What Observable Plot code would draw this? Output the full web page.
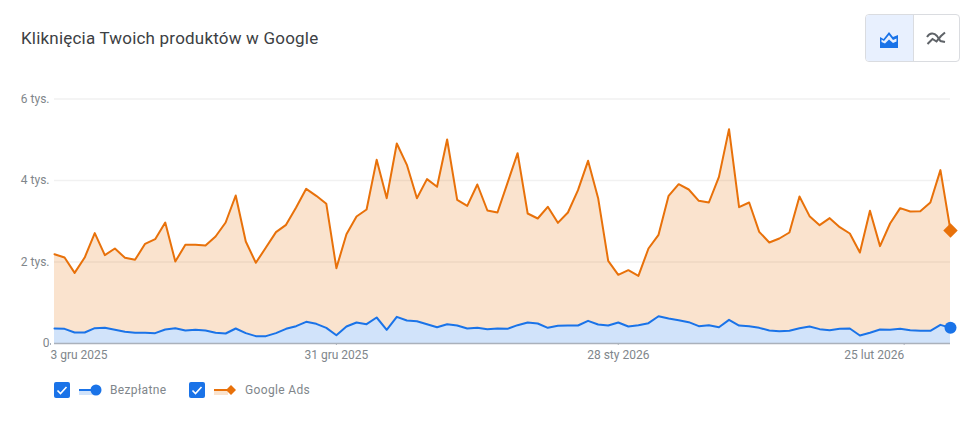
<!DOCTYPE html>
<html lang="pl">
<head>
<meta charset="utf-8">
<script src="https://cdn.jsdelivr.net/npm/d3@7"></script>
<script src="https://cdn.jsdelivr.net/npm/@observablehq/plot@0.6"></script>
<style>
html,body{margin:0;padding:0;background:#fff;width:980px;height:427px;overflow:hidden;font-family:Roboto,sans-serif}
#wrap{position:relative;width:980px;height:427px}
#chart{position:absolute;left:0;top:0}
#title{position:absolute;left:21px;top:27px;font-size:17px;line-height:22px;color:#3c4043;white-space:nowrap;letter-spacing:.2px}
#toggle{position:absolute;left:865px;top:14px;width:95px;height:48px;box-sizing:border-box;border:1px solid #dadce0;border-radius:4px;display:flex;overflow:hidden}
#toggle div{height:46px;display:flex;align-items:center;justify-content:center}
#toggle div:first-child{width:47px;background:#e8f0fe;border-right:1px solid #dadce0}
#toggle div:last-child{width:46px}
.lg{position:absolute;top:382px;height:16px;display:flex;align-items:center;font-size:12px;color:#80868b;white-space:nowrap}
.box{width:16px;height:16px;border-radius:2px;background:#1a73e8;display:block}
</style>
</head>
<body>
<div id="wrap">
  <div id="chart"></div>
  <div id="title">Kliknięcia Twoich produktów w Google</div>
  <div id="toggle">
    <div><svg width="18" height="16" viewBox="0 0 18 16" style="margin-top:3px"><path d="M0 5l3.500 2L9 0l4 5 5-2v13H0z" fill="#1a73e8"/><path d="M1.500 7.500l2.500 1.500L9 3l4 5 3.500-1.500v3L13 11 9 7.500 5 11.500 1.500 10z" fill="#e8f0fe"/></svg></div>
    <div><svg width="20" height="14" viewBox="0 0 20 14"><path d="M1 6C4 1.500 8 1.500 11 5l3.500 5 4.500 1" fill="none" stroke="#5f6368" stroke-width="2"/><path d="M1.500 13l5-5 4 2.500L15 5l4-3.500" fill="none" stroke="#5f6368" stroke-width="2"/></svg></div>
  </div>
  <div id="legend"></div>
</div>
<script>
const startDate = "2025-12-03";
const googleAds = [2192,2110,1734,2110,2708,2168,2331,2102,2053,2446,2560,2969,2012,2421,2421,2405,2626,2969,3632,2503,1980,2356,2732,2912,3337,3796,3624,3428,1849,2683,3117,3288,4507,3566,4908,4385,3566,4033,3845,5006,3526,3378,3902,3264,3215,3943,4671,3190,3068,3354,2961,3215,3763,4483,3566,2029,1685,1800,1660,2331,2667,3624,3910,3779,3501,3460,4090,5260,3346,3460,2740,2479,2577,2724,3607,3125,2904,3076,2855,2699,2233,3256,2389,2945,3321,3239,3247,3460,4254,2773];
const organic = [368,360,270,270,376,384,335,286,262,262,254,344,376,319,335,319,262,245,368,254,180,180,254,360,425,532,483,384,204,417,515,474,638,335,654,564,548,474,400,474,441,368,384,352,368,360,450,515,491,384,433,441,441,556,466,441,515,417,450,499,670,613,572,523,425,450,400,581,441,425,384,319,302,311,376,417,352,327,360,368,196,262,344,335,360,327,311,311,458,384];
const tickDates = ["2025-12-03","2025-12-31","2026-01-28","2026-02-25"];
const tickLabels = ["3 gru 2025","31 gru 2025","28 sty 2026","25 lut 2026"];
const yTicks = [0,2000,4000,6000];
const yLabels = ["0","2 tys.","4 tys.","6 tys."];
const seriesNames = ["Bezpłatne","Google Ads"];
const seriesColors = ["#1a73e8","#e8710a"];

const start = new Date(startDate + "T00:00:00Z");
const dates = googleAds.map((_, i) => d3.utcDay.offset(start, i));
const rows = dates.map((d, i) => ({date: d, ads: googleAds[i], org: organic[i]}));
const last = rows[rows.length - 1];
const T = tickDates.map(s => new Date(s + "T00:00:00Z"));
const labelOf = d => tickLabels[T.findIndex(t => +t === +d)];
const axisBase = {tickSize: 2, tickPadding: 5, stroke: "#aab1bb", color: "#80868b", fontSize: 12, label: null};

const chart = Plot.plot({
  width: 980, height: 427,
  marginTop: 98.5, marginBottom: 84, marginLeft: 54, marginRight: 30,
  style: {fontFamily: "Roboto, sans-serif", fontSize: "12px", background: "transparent", color: "#80868b"},
  x: {type: "utc", domain: [start, last.date]},
  y: {domain: [0, 6000]},
  marks: [
    Plot.ruleY(yTicks.slice(1), {stroke: "#f1f1f1", strokeWidth: 1.5}),
    Plot.areaY(rows, {x: "date", y: "ads", fill: seriesColors[1], fillOpacity: 0.2}),
    Plot.areaY(rows, {x: "date", y: "org", fill: "#d1e3fa"}),
    Plot.lineY(rows, {x: "date", y: "ads", stroke: seriesColors[1], strokeWidth: 2}),
    Plot.lineY(rows, {x: "date", y: "org", stroke: seriesColors[0], strokeWidth: 2}),
    Plot.ruleY([0], {stroke: "#aab1bb", strokeWidth: 1.5}),
    Plot.axisY({ticks: yTicks, tickFormat: d => yLabels[yTicks.indexOf(d)], tickSize: 0, tickPadding: 5, fill: "#80868b", fontSize: 12, label: null}),
    Plot.axisX({...axisBase, ticks: [T[0]], tickFormat: labelOf, textAnchor: "start", dx: -4}),
    Plot.axisX({...axisBase, ticks: [T[1], T[2]], tickFormat: labelOf}),
    Plot.axisX({...axisBase, ticks: [T[3]], tickFormat: labelOf, textAnchor: "end", dx: 4}),
    Plot.dot([last], {x: "date", y: "ads", symbol: "diamond2", r: 6.5, fill: seriesColors[1]}),
    Plot.dot([last], {x: "date", y: "org", r: 6, fill: seriesColors[0]})
  ]
});
document.getElementById("chart").append(chart);

const legend = document.getElementById("legend");
const check = '<svg class="box" viewBox="0 0 16 16"><path d="M3.500 8.500l3 3 6-6.500" fill="none" stroke="#fff" stroke-width="1.600"/></svg>';
const positions = [[54,79,110],[189,214,245]];
seriesNames.forEach((name, i) => {
  const c = seriesColors[i], [a,b,t] = positions[i];
  const band = i === 0 ? "#d1e3fa" : "#fae3ce";
  const mark = i === 0 ? `<circle cx="17" cy="6" r="5.500" fill="${c}"/>` : `<path d="M17 1l5 5-5 5-5-5z" fill="${c}"/>`;
  legend.insertAdjacentHTML("beforeend",
    `<div class="lg" style="left:${a}px">${check}</div>` +
    `<div class="lg" style="left:${b}px"><svg width="24" height="12" viewBox="0 0 24 12"><rect x="0" y="6" width="14" height="5" fill="${band}"/><rect x="0" y="5" width="14" height="2" fill="${c}"/>${mark}</svg></div>` +
    `<div class="lg" style="left:${t}px;letter-spacing:.35px">${name}</div>`);
});
</script>
</body>
</html>
